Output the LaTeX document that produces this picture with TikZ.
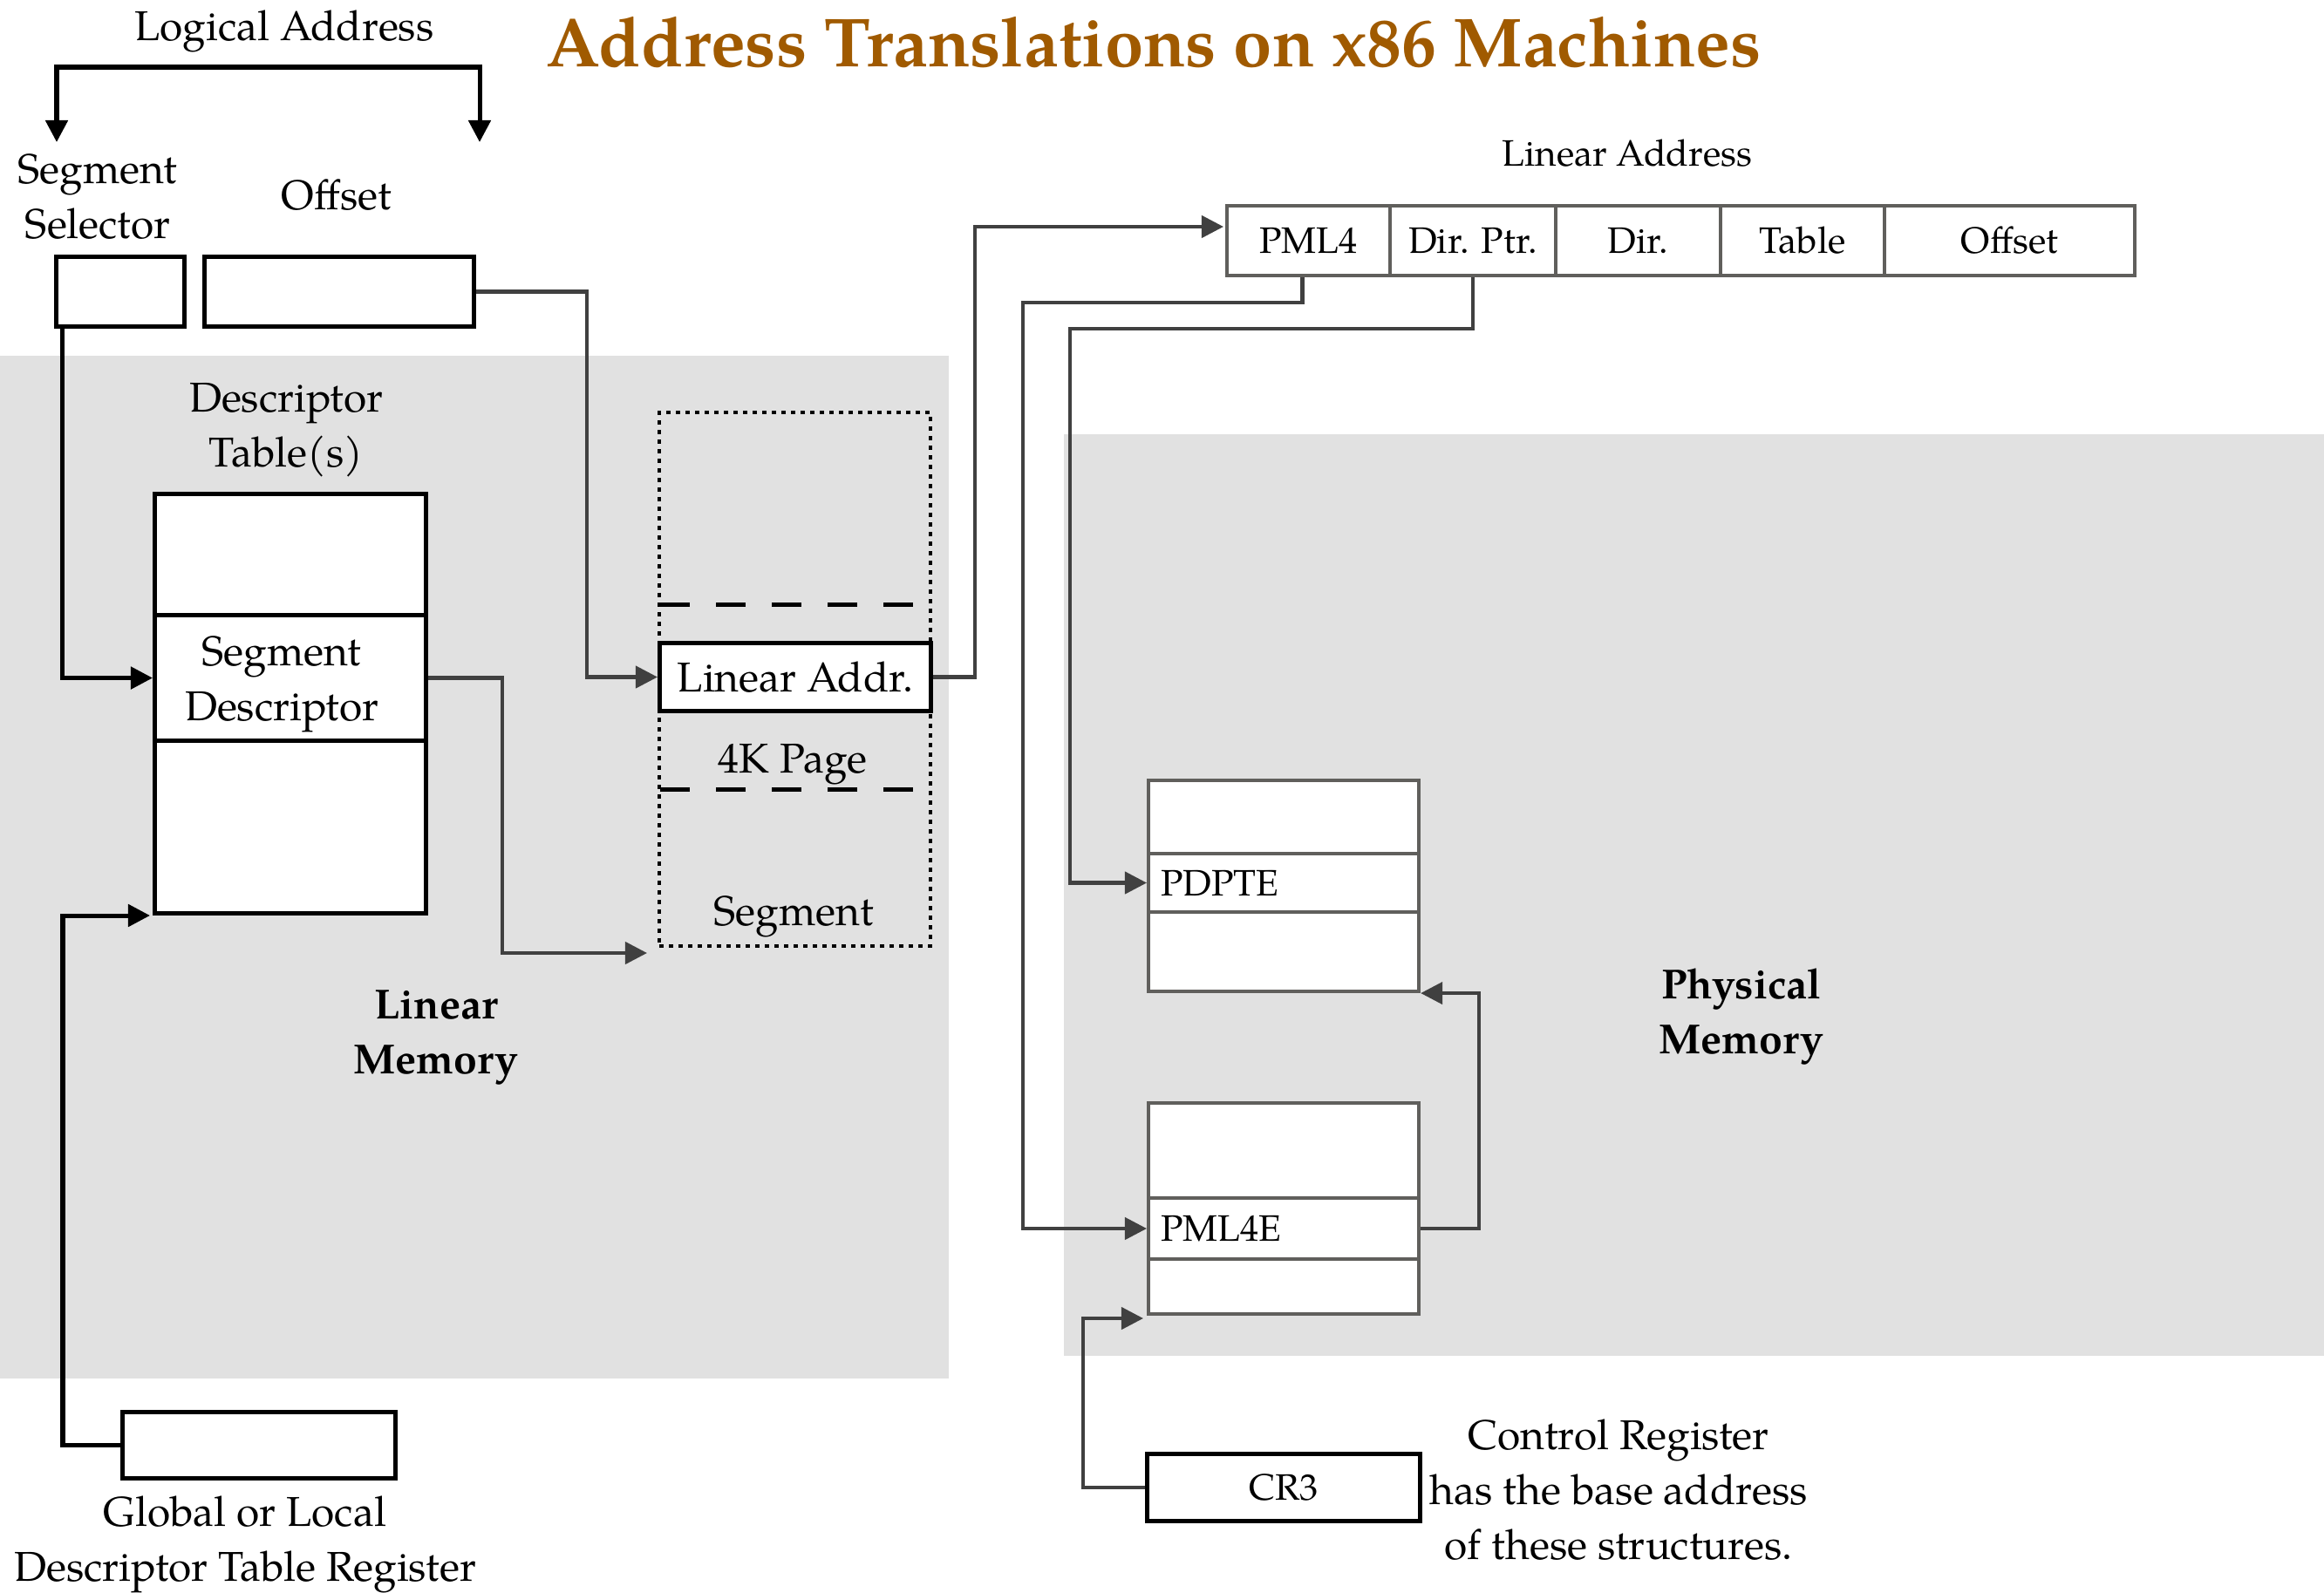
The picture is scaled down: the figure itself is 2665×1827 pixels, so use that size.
\documentclass[tikz,border=0pt]{standalone}
\usepackage{fontspec}
\setmainfont{texgyrepagella}[Extension=.otf, UprightFont=*-regular, BoldFont=*-bold, ItalicFont=*-italic, BoldItalicFont=*-bolditalic]
\usetikzlibrary{arrows.meta,calc}

\definecolor{memgray}{RGB}{225,225,225}
\definecolor{titlebrown}{RGB}{160,90,0}
\definecolor{wire}{RGB}{64,64,64}
\definecolor{framegray}{RGB}{96,95,92}

\tikzset{
  tipend/.style={-{Triangle[length=0.25cm,width=0.25cm]}},
  blkbox/.style={draw=black, line width=0.05cm, fill=white, inner sep=0, anchor=north west},
  grybox/.style={draw=framegray, line width=0.04cm, fill=white, inner sep=0, anchor=north west},
  wireln/.style={draw=wire, line width=0.042cm, tipend},
  blkln/.style={draw=black, line width=0.05cm, tipend},
  mainfont/.style={font=\fontsize{13.6}{17.9}\selectfont},
  smallfont/.style={font=\fontsize{12}{15}\selectfont},
  % multi-line labels are placed by the baseline of their last line
  lbl/.style={mainfont, align=center, inner sep=0, anchor=base},
  boldlbl/.style={font=\fontsize{13.7}{17.9}\selectfont\bfseries, align=center, inner sep=0, anchor=base},
  rowtxt/.style={smallfont, text width=2.82cm, inner xsep=0.14cm, align=left},
}

\begin{document}
\begin{tikzpicture}[x=0.01cm, y=-0.01cm]
\useasboundingbox (0,0) rectangle (2665,1827);

% memory regions
\fill[memgray] (0,408) rectangle (1088,1581);
\fill[memgray] (1220,498) rectangle (2665,1555);

% title
\node[font=\fontsize{22.6}{27}\selectfont\bfseries, text=titlebrown, inner sep=0, anchor=base] (title) at (1323,77) {Address Translations on x86 Machines};

% logical address
\node[lbl] (lalbl) at (326,47) {Logical Address};
\coordinate (lal) at (65,163);
\coordinate (lar) at (550,163);
\draw[black, line width=0.05cm, {Triangle[length=0.25cm,width=0.25cm]}-{Triangle[length=0.25cm,width=0.25cm]}] (lal) |- (300,77) -| (lar);

\node[lbl] (sellbl) at (112,273) {Segment\\Selector};
\node[lbl] (offlbl) at (386,240) {Offset};
\node[blkbox, minimum width=1.47cm, minimum height=0.80cm] (sel) at (62,292) {};
\node[blkbox, minimum width=3.09cm, minimum height=0.80cm] (off) at (232,292) {};

% descriptor table
\node[lbl] (dtlbl) at (328,535) {Descriptor\\Table(s)};
\node[blkbox, minimum width=3.11cm, minimum height=1.39cm] (dt1) at (175,564) {};
\node[blkbox, minimum width=3.11cm, minimum height=1.44cm] (dtseg) at (175,703) {};
\node[blkbox, minimum width=3.11cm, minimum height=1.98cm] (dt3) at (175,847) {};
\node[lbl] (dtseglbl) at (323,826) {Segment\\Descriptor};

% segment in linear memory
\node[draw=black, line width=0.04cm, dash pattern=on 0.05cm off 0.06cm, inner sep=0, anchor=north west, minimum width=3.11cm, minimum height=6.12cm] (segarea) at (754,471) {};
\draw[line width=0.05cm, dash pattern=on 0.34cm off 0.3cm] (757,693) -- (1050,693);
\draw[line width=0.05cm, dash pattern=on 0.34cm off 0.3cm] (757,905) -- (1050,905);
\node[blkbox, mainfont, minimum width=3.11cm, minimum height=0.78cm] (linaddr) at (754,735) {Linear Addr.};
\node[lbl] (pglbl) at (909,886) {4K Page};
\node[lbl] (seglbl) at (910,1061) {Segment};

\node[boldlbl] (linmem) at (500,1231) {Linear\\Memory};

% descriptor table register
\node[blkbox, minimum width=3.13cm, minimum height=0.76cm] (gdtr) at (138,1617) {};
\node[lbl] (gdtrlbl) at (281,1813) {Global or Local\\Descriptor Table Register};

% linear address fields
\node[smallfont, inner sep=0, anchor=base] (linlbl) at (1866,190) {Linear Address};
\node[grybox, smallfont, minimum width=1.87cm, minimum height=0.80cm] (la1) at (1405,234) {PML4};
\node[grybox, smallfont, minimum width=1.90cm, minimum height=0.80cm] (la2) at (1592,234) {Dir. Ptr.};
\node[grybox, smallfont, minimum width=1.89cm, minimum height=0.80cm] (la3) at (1782,234) {Dir.};
\node[grybox, smallfont, minimum width=1.88cm, minimum height=0.80cm] (la4) at (1971,234) {Table};
\node[grybox, smallfont, minimum width=2.87cm, minimum height=0.80cm] (la5) at (2159,234) {Offset};

% paging structures
\node[grybox, minimum width=3.10cm, minimum height=0.84cm] (pdpt1) at (1315,893) {};
\node[grybox, rowtxt, minimum width=3.10cm, minimum height=0.67cm] (pdptr) at (1315,977) {PDPTE};
\node[grybox, minimum width=3.10cm, minimum height=0.91cm] (pdpt3) at (1315,1044) {};
\node[grybox, minimum width=3.10cm, minimum height=1.09cm] (pml1) at (1315,1263) {};
\node[grybox, rowtxt, minimum width=3.10cm, minimum height=0.70cm] (pml4r) at (1315,1372) {PML4E};
\node[grybox, minimum width=3.10cm, minimum height=0.63cm] (pml3) at (1315,1442) {};

\node[boldlbl] (phymem) at (1997,1208) {Physical\\Memory};

% control register
\node[blkbox, smallfont, minimum width=3.13cm, minimum height=0.77cm] (cr3) at (1313,1665) {CR3};
\node[lbl] (cr3lbl) at (1856,1788) {Control Register\\has the base address\\of these structures.};

% arrow targets
\coordinate (segin) at (742,1093);
\coordinate (dtin) at (172,1050);
\coordinate (pml4in) at (1403,260);
\coordinate (pmlin) at (1311,1512);

% connectors
\draw[blkln] ([xshift=0.09cm]sel.south west) |- (dtseg.west);
\draw[wireln] (off.east) -- ++(127,0) |- (linaddr.west);
\draw[wireln] (dtseg.east) -- ++(85,0) |- (segin);
\draw[blkln] (gdtr.west) -- ++(-66,0) |- (dtin);
\draw[wireln] (linaddr.east) -- ++(48,0) |- (pml4in);
\draw[wireln] ([xshift=-0.07cm]la1.south) |- (1173,347) |- (pml4r.west);
\draw[wireln] (la2.south) |- (1227,377) |- (pdptr.west);
\draw[wireln] (pml4r.east) -- ++(67,0) |- (pdpt3.south east);
\draw[wireln] (cr3.west) -- ++(-71,0) |- (pmlin);
\end{tikzpicture}
\end{document}
